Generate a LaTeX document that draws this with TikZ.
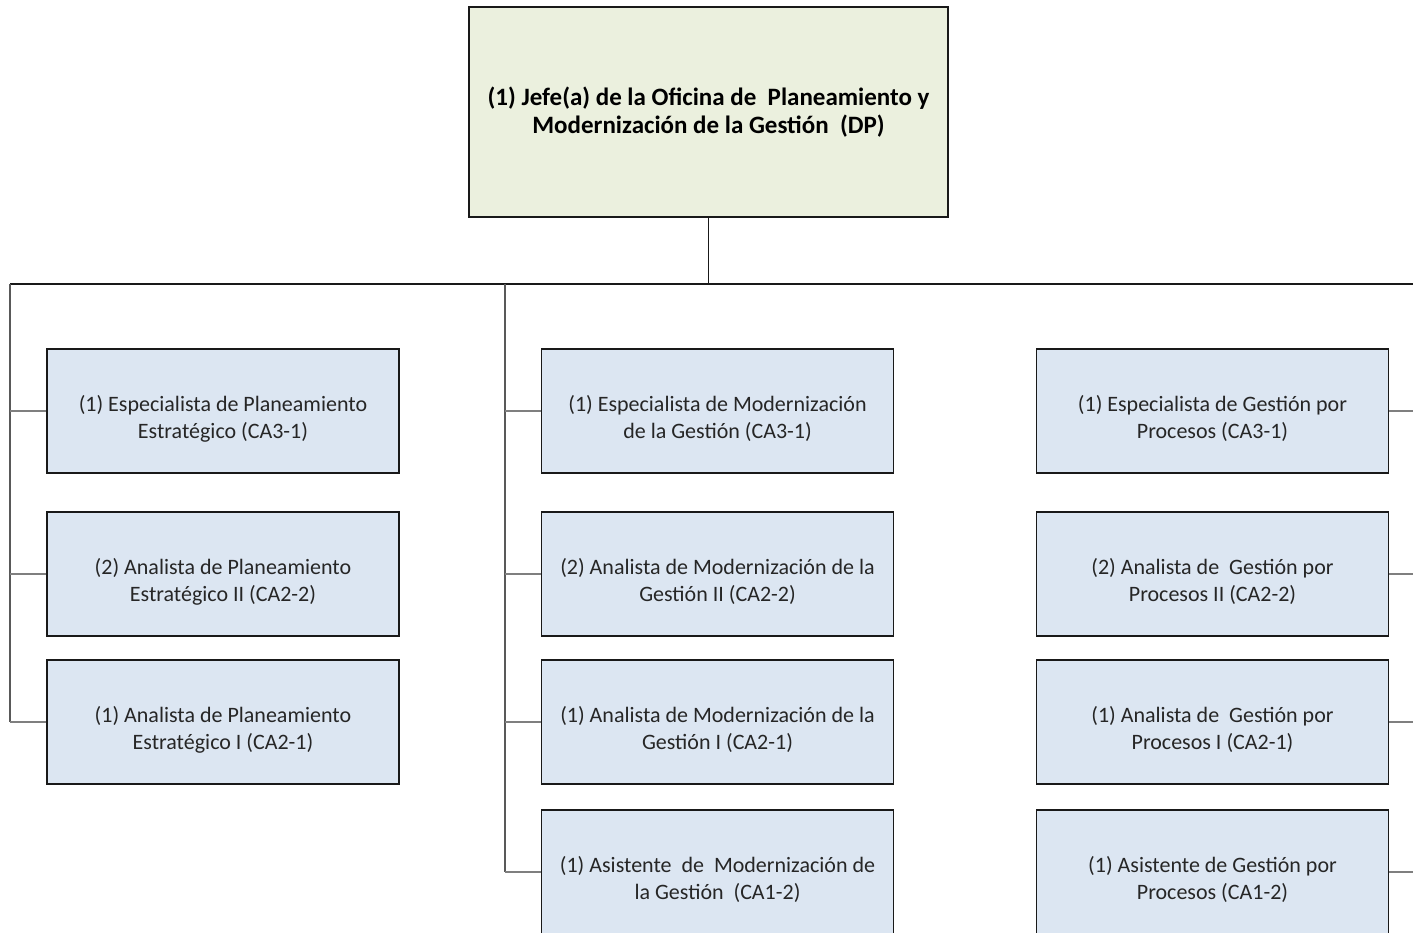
\documentclass[tikz,border=0pt]{standalone}
\usepackage{fontspec}
\setmainfont{Carlito}
\usepackage{xcolor}
\usepackage{tikz}
\usetikzlibrary{positioning, calc}
\definecolor{jefefill}{HTML}{EBF0DE}
\definecolor{cargofill}{HTML}{DCE6F2}
\definecolor{ramagray}{HTML}{7F7F7F}
\newcommand{\alto}{\rule{0pt}{31pt}}
\tikzset{
  jefebox/.style={
    draw=black!90, line width=1.5pt, fill=jefefill,
    minimum width=479pt, minimum height=210pt,
    align=center, font=\fontsize{25}{28}\selectfont\bfseries},
  cargo/.style={
    draw=black!90, line width=1.5pt, fill=cargofill,
    minimum width=352pt, minimum height=124pt,
    align=center, text=black!85, font=\fontsize{22}{27}\selectfont},
  bus/.style={line width=1.8pt, draw=black!90},
  tronco/.style={line width=1.4pt, draw=black!65},
  rama/.style={line width=1.2pt, draw=ramagray}
  }

\begin{document}
\begin{tikzpicture}[x=1pt, y=-1pt]
		\clip (0,0) rectangle (1413,933);
		% jefatura
		\node [jefebox] (jefe) at (708.5,112) {(1) Jefe(a) de la Oficina de~ Planeamiento y\\Modernización de la Gestión~ (DP)};
		% planeamiento
		\node [cargo] (plan1) at (223,411) {\alto(1) Especialista de Planeamiento\\Estratégico (CA3-1)};
		\node [cargo] (plan2) at (223,574) {\alto(2) Analista de Planeamiento\\Estratégico II (CA2-2)};
		\node [cargo] (plan3) at (223,722) {\alto(1) Analista de Planeamiento\\Estratégico I (CA2-1)};
		% modernizacion
		\node [cargo] (mod1) at (717.5,411) {\alto(1) Especialista de Modernización\\de la Gestión (CA3-1)};
		\node [cargo] (mod2) at (717.5,574) {\alto(2) Analista de Modernización de la\\Gestión II (CA2-2)};
		\node [cargo] (mod3) at (717.5,722) {\alto(1) Analista de Modernización de la\\Gestión I (CA2-1)};
		\node [cargo] (mod4) at (717.5,872) {\alto(1) Asistente~ de~ Modernización de\\la Gestión~ (CA1-2)};
		% procesos
		\node [cargo] (proc1) at (1212.5,411) {\alto(1) Especialista de Gestión por\\Procesos (CA3-1)};
		\node [cargo] (proc2) at (1212.5,574) {\alto(2) Analista de~ Gestión por\\Procesos II (CA2-2)};
		\node [cargo] (proc3) at (1212.5,722) {\alto(1) Analista de~ Gestión por\\Procesos I (CA2-1)};
		\node [cargo] (proc4) at (1212.5,872) {\alto(1) Asistente de Gestión por\\Procesos (CA1-2)};
		% lineas
		\coordinate (busl) at (10,284);
		\coordinate (busm) at (505,284);
		\coordinate (busr) at (1413,284);
		\draw [bus] (jefe.south) to (jefe.south |- busl);
		\draw [bus] (busl) to (busr);
		\draw [tronco] (busl) to (busl |- plan3.west);
		\draw [tronco] (busm) to (busm |- mod4.west);
		\foreach \n in {plan1, plan2, plan3}
			\draw [rama] (busl |- \n.west) to (\n.west);
		\foreach \n in {mod1, mod2, mod3, mod4}
			\draw [rama] (busm |- \n.west) to (\n.west);
		\foreach \n in {proc1, proc2, proc3, proc4}
			\draw [rama] (\n.east) to (\n.east -| busr);
	\end{tikzpicture}
\end{document}
